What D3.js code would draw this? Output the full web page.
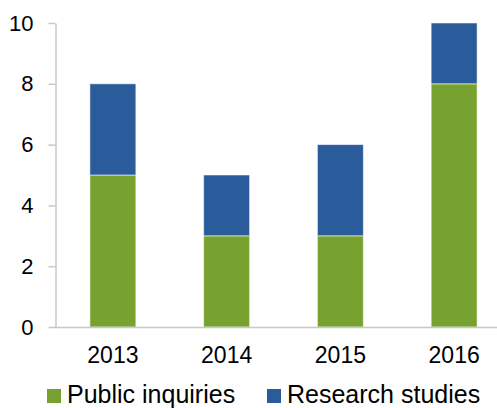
<!DOCTYPE html>
<html>
<head>
<meta charset="utf-8">
<script src="https://cdn.jsdelivr.net/npm/d3@7"></script>
<style>
  body { margin: 0; background: #fff; }
  svg { display: block; font-family: "Liberation Sans", Arial, sans-serif; }
</style>
</head>
<body>
<div id="chart"></div>
<script>
// Data
const years = ['2013', '2014', '2015', '2016'];
const publicInquiries = [5, 3, 3, 8];
const researchStudies = [3, 2, 3, 2];
const seriesNames = ['Public inquiries', 'Research studies'];
const seriesColours = ['#78A22F', '#2A5B9B'];
const yTicks = [0, 2, 4, 6, 8, 10];

const width = 497;
const height = 408;
const axisColour = '#C8C8C8';

const rows = years.map((yr, i) => ({
  year: yr,
  'Public inquiries': publicInquiries[i],
  'Research studies': researchStudies[i],
}));

const stacked = d3.stack().keys(seriesNames)(rows);

// Scales
const x = d3.scaleBand()
  .domain(years)
  .range([56, 511])
  .paddingInner(0.596)
  .paddingOuter(0.298);
const y = d3.scaleLinear().domain([0, 10]).range([327, 23]);

const svg = d3.select('#chart')
  .append('svg')
  .attr('width', width)
  .attr('height', height);

// Bars
svg.selectAll('g.series')
  .data(stacked)
  .enter().append('g')
  .attr('class', 'series')
  .attr('fill', (d, i) => seriesColours[i])
  .selectAll('rect')
  .data(d => d)
  .enter().append('rect')
  .attr('x', d => x(d.data.year))
  .attr('width', x.bandwidth())
  .attr('y', d => y(d[1]))
  .attr('height', d => y(d[0]) - y(d[1]))
  .attr('stroke', 'rgba(255,255,255,0.55)')
  .attr('stroke-width', 1);

// Y axis
const yAxis = svg.append('g')
  .attr('transform', 'translate(55.5,0)')
  .call(d3.axisLeft(y).tickValues(yTicks).tickSize(7).tickPadding(15).tickSizeOuter(0));
yAxis.select('.domain').attr('stroke', axisColour).attr('stroke-width', 1.5);
yAxis.selectAll('.tick line').attr('stroke', axisColour).attr('stroke-width', 1.5);
yAxis.selectAll('.tick text')
  .attr('fill', '#000')
  .style('font-size', '22px')
  .attr('font-family', null);

// X axis
const xAxis = svg.append('g')
  .attr('transform', `translate(0,${y(0) + 0.5})`)
  .call(d3.axisBottom(x).tickSize(0).tickPadding(19));
xAxis.select('.domain')
  .attr('d', `M55,0H${width}`)
  .attr('stroke', axisColour)
  .attr('stroke-width', 1.5);
xAxis.selectAll('.tick text')
  .attr('fill', '#000')
  .style('font-size', '23px')
  .attr('font-family', null);

// Legend
const legendX = [47, 267];
const legend = svg.append('g')
  .selectAll('g')
  .data(seriesNames)
  .enter().append('g')
  .attr('transform', (d, i) => `translate(${legendX[i]},389)`);
legend.append('rect')
  .attr('width', 14)
  .attr('height', 14)
  .attr('fill', (d, i) => seriesColours[i]);
legend.append('text')
  .attr('x', 20)
  .attr('y', 14)
  .style('font-size', '25px')
  .attr('fill', '#000')
  .text(d => d);
</script>
</body>
</html>
